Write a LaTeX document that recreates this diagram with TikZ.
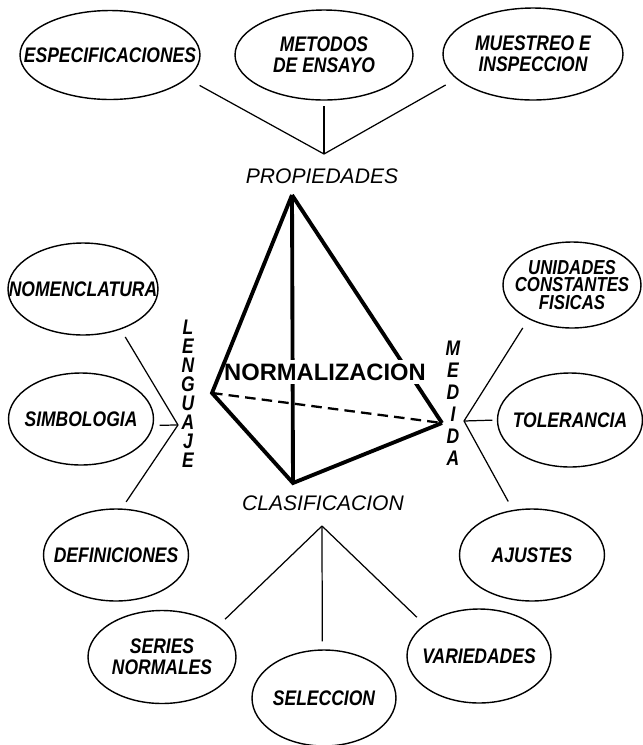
\documentclass[tikz,border=0pt]{standalone}
\usepackage{fontspec}
\setmainfont{Liberation Sans}
\newfontfamily\narrowfont[FakeStretch=0.83]{Liberation Sans}
\usetikzlibrary{shapes.geometric}

\begin{document}
\begin{tikzpicture}
	[
		x=0.02cm, y=-0.02cm,
		oval/.style={ellipse, draw, line width=0.8pt, inner xsep=-30pt, inner ysep=0pt, align=center, font=\narrowfont\bfseries\itshape\fontsize{12}{12}\selectfont},
		link/.style={line width=0.7pt},
		ridge/.style={line width=2.2pt},
		hidden/.style={line width=1.3pt, dash pattern=on 6pt off 3.5pt},
		heading/.style={font=\itshape\fontsize{12}{12}\selectfont},
		vword/.style={align=center, inner sep=0pt, font=\narrowfont\bfseries\itshape\fontsize{12}{#1}\selectfont},
		core/.style={fill=white, inner sep=2pt, font=\bfseries\fontsize{13.5}{13.5}\selectfont},
	]
	\useasboundingbox (0,0) rectangle (643,745);

	% top group
	\node[oval, minimum width=3.6cm, minimum height=1.78cm] (especif) at (110,55) {ESPECIFICACIONES};
	\node[oval, minimum width=3.56cm, minimum height=1.8cm] (metodos) at (324,55) {METODOS\\DE ENSAYO};
	\node[oval, minimum width=3.6cm, minimum height=1.84cm] (muestreo) at (533,54) {MUESTREO E\\INSPECCION};
	\node[heading] (propiedades) at (322,176) {PROPIEDADES};
	\coordinate (propj) at (324,154);

	% left group
	\node[oval, minimum width=3.0cm, minimum height=1.84cm] (nomencl) at (83,289) {NOMENCLATURA};
	\node[oval, minimum width=2.9cm, minimum height=1.84cm] (simbolog) at (81,419) {SIMBOLOGIA};
	\node[oval, minimum width=2.9cm, minimum height=1.84cm] (defin) at (116,555) {DEFINICIONES};
	\node[vword=10.8pt] (lenguaje) at (188,394) {L\\E\\N\\G\\U\\A\\J\\E};
	\coordinate (lengj) at (178,425);

	% right group
	\node[oval, minimum width=2.76cm, minimum height=1.72cm, font=\narrowfont\bfseries\itshape\fontsize{11.5}{11.5}\selectfont] (unidades) at (572,285) {UNIDADES\\[-1.5pt]CONSTANTES\\[-1.5pt]FISICAS};
	\node[oval, minimum width=2.9cm, minimum height=1.88cm] (toler) at (570,420) {TOLERANCIA};
	\node[oval, minimum width=2.9cm, minimum height=1.84cm] (ajustes) at (532,555) {AJUSTES};
	\node[vword=12.5pt] (medida) at (453,403) {M\\E\\D\\I\\D\\A};
	\coordinate (medj) at (464,421);

	% bottom group
	\node[heading] (clasif) at (323,503) {CLASIFICACION};
	\node[oval, minimum width=2.96cm, minimum height=1.86cm] (series) at (162,657) {SERIES\\NORMALES};
	\node[oval, minimum width=2.88cm, minimum height=1.92cm] (selecc) at (324,698) {SELECCION};
	\node[oval, minimum width=2.88cm, minimum height=1.88cm] (varied) at (479,656) {VARIEDADES};
	\coordinate (clasj) at (322,526);

	% tetrahedron
	\coordinate (apex) at (292,195);
	\coordinate (vleft) at (212,393);
	\coordinate (vbase) at (293,483);
	\coordinate (vright) at (442,423);
	\draw[ridge] (apex) -- (vbase);
	\draw[ridge] (apex) -- (vright);
	\node[core] (norma) at (325,372) {NORMALIZACION};
	\draw[ridge] (apex) -- (vleft) -- (vbase) -- (vright);
	\draw[hidden] (vleft) -- (vright);

	\draw[link, shorten >=8pt] (propj) -- (especif.-17);
	\draw[link, shorten >=3pt] (propj) -- (metodos.south);
	\draw[link, shorten >=7pt] (propj) -- (muestreo.198);

	\draw[link, shorten >=5pt] (lengj) -- (nomencl.-47);
	\draw[link, shorten >=3.5pt] (lengj) -- (simbolog.-5);
	\draw[link, shorten >=4.5pt] (lengj) -- (defin.83);

	\draw[link, shorten >=6pt] (medj) -- (unidades.218);
	\draw[link, shorten >=2.5pt] (medj) -- (toler.180);
	\draw[link, shorten >=5.5pt] (medj) -- (ajustes.113);

	\draw[link, shorten >=5.5pt] (clasj) -- (series.29);
	\draw[link, shorten >=4.5pt] (clasj) -- (selecc.92);
	\draw[link, shorten >=6pt] (clasj) -- (varied.150);

\end{tikzpicture}
\end{document}
